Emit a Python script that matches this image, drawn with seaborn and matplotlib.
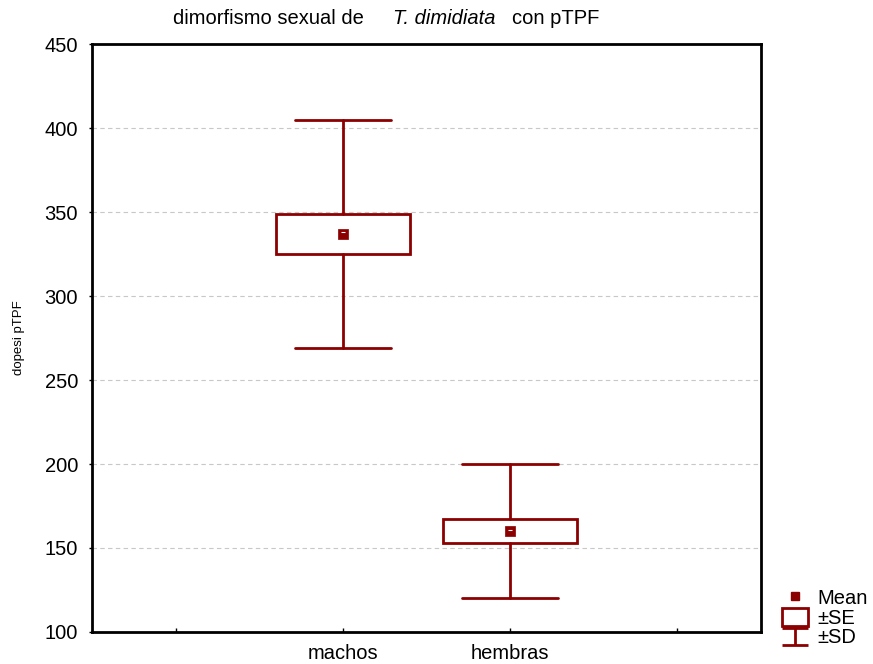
"""Mean / ±SE / ±SD plot: sexual dimorphism of T. dimidiata (pTPF)."""

import matplotlib
matplotlib.use("Agg")
import matplotlib.pyplot as plt
import matplotlib.patches as mpatches
from matplotlib.legend_handler import HandlerBase
from matplotlib.lines import Line2D
import pandas as pd
import seaborn as sns

# Data
groups = ["machos", "hembras"]
means = [337, 160]
se_low = [325, 153]
se_high = [349, 167]
sd_low = [269, 120]
sd_high = [405, 200]

yticks = [100, 150, 200, 250, 300, 350, 400, 450]

RED = "#8B0000"
FS = 14.5

sns.set_theme(style="white")
plt.rcParams["font.family"] = ["Liberation Sans", "DejaVu Sans"]
plt.rcParams["text.color"] = "black"
plt.rcParams["axes.labelcolor"] = "black"


class SDHandler(HandlerBase):
    """Legend icon for ±SD: an I-shaped whisker."""

    def create_artists(self, legend, orig_handle, xdescent, ydescent,
                       width, height, fontsize, trans):
        x0, x1 = -xdescent, width - xdescent
        y0, y1 = -ydescent, height - ydescent
        cx = (x0 + x1) / 2
        kw = dict(color=RED, linewidth=2.0, transform=trans, solid_capstyle="butt")
        return [
            Line2D([x0, x1], [y1, y1], **kw),
            Line2D([cx, cx], [y0, y1], **kw),
            Line2D([x0, x1], [y0, y0], **kw),
        ]


df = pd.DataFrame({
    "grupo": groups, "pos": range(len(groups)), "mean": means,
    "se_low": se_low, "se_high": se_high, "sd_low": sd_low, "sd_high": sd_high,
})

fig = plt.figure(figsize=(8.73, 6.64), dpi=100)
ax = fig.add_axes([0.1054, 0.0482, 0.7663, 0.8855])

stats = [
    dict(med=r["mean"], q1=r["se_low"], q3=r["se_high"],
         whislo=r["sd_low"], whishi=r["sd_high"], label=r["grupo"], fliers=[])
    for _, r in df.iterrows()
]
line_kw = dict(color=RED, linewidth=2.0)
ax.bxp(stats, positions=df["pos"], widths=0.8, capwidths=0.57,
       showfliers=False, patch_artist=True,
       boxprops=dict(facecolor="white", edgecolor=RED, linewidth=2.0),
       whiskerprops=line_kw, capprops=line_kw,
       medianprops=dict(linewidth=0))

sns.scatterplot(data=df, x="pos", y="mean", marker="s", s=45, color=RED,
                edgecolor=RED, linewidth=0.5, ax=ax, zorder=5)
ax.scatter(df["pos"], df["mean"] + 1, marker="_", s=6, color="white",
           linewidth=0.8, zorder=6)

ax.set_xlim(-1.5, 2.5)
ax.set_ylim(100, 450)
ax.set_xticks([-1, 0, 1, 2])
ax.set_xticklabels([""] + groups + [""], fontsize=FS)
ax.set_yticks(yticks)
ax.set_yticklabels([str(v) for v in yticks], fontsize=FS)
ax.set_xlabel("")
ax.set_ylabel("dopesi pTPF", fontsize=9.5)
ax.yaxis.set_label_coords(-0.1, 0.5)

ax.tick_params(axis="x", direction="in", length=3, width=1, pad=9,
               bottom=True, colors="black")
ax.tick_params(axis="y", direction="out", length=2, width=1, pad=8,
               left=True, colors="black")
for sp in ax.spines.values():
    sp.set_color("black")
    sp.set_linewidth(2.0)

ax.set_axisbelow(True)
ax.yaxis.grid(True, linestyle=(0, (4, 3)), color="#c8c8c8", linewidth=0.8)
ax.xaxis.grid(False)

# Title with italic species name
ty = 1 - 19 / 664
fig.text(173 / 873, ty, "dimorfismo sexual de", ha="left", va="center", fontsize=FS)
fig.text(393 / 873, ty, "T. dimidiata", ha="left", va="center", fontsize=FS, style="italic")
fig.text(512 / 873, ty, "con pTPF", ha="left", va="center", fontsize=FS)

# Legend outside the axes, bottom right
handles = [
    Line2D([], [], marker="s", linestyle="none", color=RED, markersize=6),
    mpatches.Patch(facecolor="white", edgecolor=RED, linewidth=2.0),
    "sd",
]
labels = ["Mean", "±SE", "±SD"]
fig.legend(handles, labels, loc="center left",
           bbox_to_anchor=(782 / 873, 1 - 618 / 664),
           frameon=False, fontsize=FS, handlelength=1.3, handleheight=0.95,
           labelspacing=0.0, handletextpad=0.45, borderpad=0, borderaxespad=0,
           handler_map={str: SDHandler()})

fig.savefig("out.png", dpi=100)
plt.close(fig)
